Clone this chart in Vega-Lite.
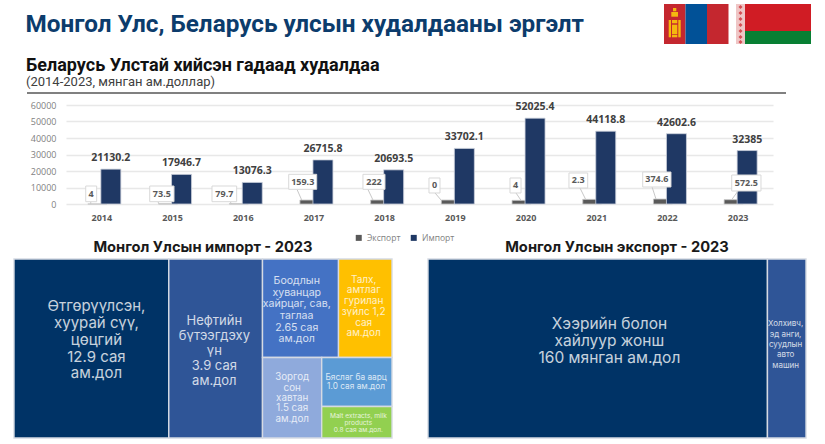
{"$schema":"https://vega.github.io/schema/vega-lite/v6.json","padding":{"top":3,"left":0,"right":0,"bottom":0},"background":"white","spacing":-4,
"resolve":{"scale":{"color":"independent"}},
"config":{"view":{"stroke":null},"font":"Open Sans"},
"datasets":{
"bars":[
{"year":2014,"series":"Импорт","value":21130.2,"label":"21130.2"},
{"year":2015,"series":"Импорт","value":17946.7,"label":"17946.7"},
{"year":2016,"series":"Импорт","value":13076.3,"label":"13076.3"},
{"year":2017,"series":"Импорт","value":26715.8,"label":"26715.8"},
{"year":2018,"series":"Импорт","value":20693.5,"label":"20693.5"},
{"year":2019,"series":"Импорт","value":33702.1,"label":"33702.1"},
{"year":2020,"series":"Импорт","value":52025.4,"label":"52025.4"},
{"year":2021,"series":"Импорт","value":44118.8,"label":"44118.8"},
{"year":2022,"series":"Импорт","value":42602.6,"label":"42602.6"},
{"year":2023,"series":"Импорт","value":32385,"label":"32385"},
{"year":2014,"series":"Экспорт","value":4,"label":"4","bx0":2013.779,"bx1":2013.934,"by0":1400,"by1":10900,"lx":2013.856,"ly":6150,"px0":2013.85,"py0":1400,"px1":2013.85,"py1":100},
{"year":2015,"series":"Экспорт","value":73.5,"label":"73.5","bx0":2014.684,"bx1":2015.028,"by0":1400,"by1":10900,"lx":2014.856,"ly":6150,"px0":2014.8,"py0":1400,"px1":2014.815,"py1":100},
{"year":2016,"series":"Экспорт","value":79.7,"label":"79.7","bx0":2015.565,"bx1":2015.914,"by0":1400,"by1":10900,"lx":2015.74,"ly":6150,"px0":2015.82,"py0":1400,"px1":2015.844,"py1":100},
{"year":2017,"series":"Экспорт","value":2400,"label":"159.3","bx0":2016.65,"bx1":2017.046,"by0":8900,"by1":18000,"lx":2016.848,"ly":13450,"px0":2016.767,"py0":8900,"px1":2016.834,"py1":2400},
{"year":2018,"series":"Экспорт","value":2400,"label":"222","bx0":2017.7,"bx1":2018.012,"by0":8900,"by1":18000,"lx":2017.856,"ly":13450,"px0":2017.77,"py0":8900,"px1":2017.842,"py1":2400},
{"year":2019,"series":"Экспорт","value":2400,"label":"0","bx0":2018.634,"bx1":2018.79,"by0":6670,"by1":15760,"lx":2018.712,"ly":11215,"px0":2018.72,"py0":6670,"px1":2018.805,"py1":2400},
{"year":2020,"series":"Экспорт","value":2200,"label":"4","bx0":2019.78,"bx1":2019.936,"by0":6670,"by1":15760,"lx":2019.858,"ly":11215,"px0":2019.865,"py0":6670,"px1":2019.936,"py1":2200},
{"year":2021,"series":"Экспорт","value":2800,"label":"2.3","bx0":2020.614,"bx1":2020.879,"by0":9700,"by1":18790,"lx":2020.746,"ly":14245,"px0":2020.77,"py0":9700,"px1":2020.85,"py1":2800},
{"year":2022,"series":"Экспорт","value":3000,"label":"374.6","bx0":2021.657,"bx1":2022.057,"by0":10300,"by1":19400,"lx":2021.857,"ly":14850,"px0":2021.79,"py0":10300,"px1":2021.845,"py1":3000},
{"year":2023,"series":"Экспорт","value":2600,"label":"572.5","bx0":2022.916,"bx1":2023.33,"by0":7880,"by1":17570,"lx":2023.123,"ly":12725,"px0":2023.005,"py0":7880,"px1":2022.916,"py1":2600}
],
"imp":[
{"name":"A","x0":0,"x1":40.95,"y0":0,"y1":100,"lx":21.8,"ly":26.5,"label":"Өтгөрүүлсэн,\nхуурай сүү,\nцөцгий\n12.9 сая\nам.дол"},
{"name":"B","x0":40.95,"x1":65.74,"y0":0,"y1":100,"lx":53,"ly":34.9,"label":"Нефтийн\nбүтээгдэху\nүн\n3.9 сая\nам.дол"},
{"name":"C","x0":65.74,"x1":85.85,"y0":0,"y1":55.03,"lx":74.8,"ly":12.2,"label":"Боодлын\nхуванцар\nхайрцаг, сав,\nтаглаа\n2.65 сая\nам.дол"},
{"name":"D","x0":85.85,"x1":100,"y0":0,"y1":55.03,"lx":92.5,"ly":11.6,"label":"Талх,\nамтлаг\nгурилан\nзүйлс 1,2\nсая\nам.дол"},
{"name":"E","x0":65.74,"x1":81.4,"y0":55.03,"y1":100,"lx":73.6,"ly":66,"label":"Зоргод\nсон\nхавтан\n1.5 сая\nам.дол"},
{"name":"F","x0":81.4,"x1":100,"y0":55.03,"y1":82.4,"lx":90.5,"ly":66.6,"label":"Бяслаг ба аарц\n1.0 сая ам.дол"},
{"name":"G","x0":81.4,"x1":100,"y0":82.4,"y1":100,"lx":91.1,"ly":87.6,"label":"Malt extracts, milk\nproducts\n0.8 сая ам.дол."}
],
"exp":[
{"name":"A","x0":0,"x1":89.8,"y0":0,"y1":100,"lx":48,"ly":36.4,"label":"Хээрийн болон\nхайлуур жонш\n160 мянган ам.дол"},
{"name":"B","x0":89.8,"x1":100,"y0":0,"y1":100,"lx":94.6,"ly":36.4,"label":"Холхивч,\nэд анги,\nсуудлын\nавто\nмашин"}
],
"mn":[
{"part":"red","x0":0,"x1":21.5,"y0":0,"y1":40},
{"part":"blue","x0":21.5,"x1":43,"y0":0,"y1":40},
{"part":"red","x0":43,"x1":64.5,"y0":0,"y1":40},
{"part":"gold","x0":9,"x1":12.3,"y0":4,"y1":7.3},
{"part":"gold","x0":7.3,"x1":14,"y0":8,"y1":12.7},
{"part":"gold","x0":4.7,"x1":7,"y0":16,"y1":33.3},
{"part":"gold","x0":14.3,"x1":16.7,"y0":16,"y1":33.3},
{"part":"gold","x0":8,"x1":13.3,"y0":16,"y1":19.3},
{"part":"gold","x0":8,"x1":13.3,"y0":20.7,"y1":30},
{"part":"gold","x0":8,"x1":13.3,"y0":30.7,"y1":33.3}
],
"by":[
{"part":"pink","x0":0,"x1":9,"y0":0,"y1":40},
{"part":"red","x0":9,"x1":75,"y0":0,"y1":27},
{"part":"green","x0":9,"x1":75,"y0":27,"y1":40}
],
"byo":[{"cx":4.5,"cy":3},{"cx":4.5,"cy":9},{"cx":4.5,"cy":15},{"cx":4.5,"cy":21},{"cx":4.5,"cy":27},{"cx":4.5,"cy":33},{"cx":4.5,"cy":38}]
},
"vconcat":[
{"resolve":{"scale":{"color":"independent"}},"hconcat":[
{"width":663,"height":57,"data":{"values":[{"t":"Монгол Улс, Беларусь улсын худалдааны эргэлт"}]},
 "mark":{"type":"text","align":"left","baseline":"middle","font":"Roboto","fontWeight":"bold","fontSize":24.3,"color":"#0c3c6c"},
 "encoding":{"text":{"field":"t"},"x":{"datum":24.5,"type":"quantitative","scale":{"domain":[0,663]},"axis":null},"y":{"datum":21,"type":"quantitative","scale":{"domain":[57,0]},"axis":null}}},
{"width":64.5,"height":40,"data":{"name":"mn"},"mark":"rect","encoding":{
 "x":{"field":"x0","type":"quantitative","scale":{"domain":[0,64.5],"nice":false},"axis":null},"x2":{"field":"x1"},
 "y":{"field":"y0","type":"quantitative","scale":{"domain":[40,0],"nice":false},"axis":null},"y2":{"field":"y1"},
 "color":{"field":"part","type":"nominal","legend":null,"sort":null,"scale":{"domain":["red","blue","gold"],"range":["#c4272f","#015197","#f5b80f"]}},
 "order":{"field":"y1","type":"quantitative","sort":"descending"}}},
{"width":7,"height":40,"data":{"values":[{}]},"mark":{"type":"rule","opacity":0},"encoding":{}},
{"width":75,"height":40,"layer":[
 {"data":{"name":"by"},"mark":"rect","encoding":{
 "x":{"field":"x0","type":"quantitative","scale":{"domain":[0,75],"nice":false},"axis":null},"x2":{"field":"x1"},
 "y":{"field":"y0","type":"quantitative","scale":{"domain":[40,0],"nice":false},"axis":null},"y2":{"field":"y1"},
 "color":{"field":"part","type":"nominal","legend":null,"scale":{"domain":["pink","red","green"],"range":["#efc6c6","#d01c24","#087f33"]}}}},
 {"data":{"name":"byo"},"mark":{"type":"point","shape":"diamond","filled":true,"size":16,"color":"#cf3a40","opacity":0.85},"encoding":{
 "x":{"field":"cx","type":"quantitative"},"y":{"field":"cy","type":"quantitative"}}}
]}
],"spacing":0,"bounds":"flush"},
{"hconcat":[
{"width":64.5,"height":99,"data":{"values":[{}]},"mark":{"type":"rule","opacity":0},"encoding":{}},
{"width":707,"height":99,"data":{"name":"bars"},
 "title":{"text":"Беларусь Улстай хийсэн гадаад худалдаа","subtitle":"(2014-2023, мянган ам.доллар)","anchor":"start","frame":"group","dx":-40,"offset":3,"font":"Roboto","fontWeight":"bold","fontSize":18,"color":"#111111","subtitleFont":"Roboto","subtitleFontSize":13,"subtitleColor":"#404040","subtitlePadding":1},
 "layer":[
 {"transform":[{"filter":"datum.series=='Экспорт'"}],"mark":{"type":"bar","size":19,"xOffset":-4,"orient":"vertical","stroke":"#c4c4c4","strokeWidth":0.8},"encoding":{
  "x":{"field":"year","type":"quantitative","scale":{"domain":[2013.5,2023.5],"nice":false,"zero":false,"padding":0},"axis":{"values":[2014,2015,2016,2017,2018,2019,2020,2021,2022,2023],"tickCount":10,"format":"d","title":null,"grid":false,"domain":false,"ticks":false,"labelFont":"Open Sans","labelFontWeight":"bold","labelFontSize":9,"labelColor":"#595959","labelPadding":9}},
  "y":{"field":"value","type":"quantitative","stack":null,"scale":{"domain":[0,60000],"nice":false},"axis":{"values":[0,10000,20000,30000,40000,50000,60000],"tickCount":7,"title":null,"format":"d","domain":false,"ticks":false,"gridColor":"#e8e8e8","gridWidth":1.3,"labelFont":"Open Sans","labelFontSize":9,"labelColor":"#7f7f7f","labelPadding":10}},
  "color":{"field":"series","type":"nominal","scale":{"domain":["Экспорт","Импорт"],"range":["#595959","#1f3864"]},"legend":{"title":null,"orient":"none","legendX":353.5,"legendY":128.5,"direction":"horizontal","symbolType":"square","symbolSize":36,"labelFont":"Open Sans","labelFontSize":8.5,"labelColor":"#7f7f7f","columnPadding":9,"symbolStrokeWidth":0}}}},
 {"transform":[{"filter":"datum.series=='Импорт'"}],"mark":{"type":"bar","size":20,"xOffset":9.5,"orient":"vertical","stroke":"#ccd1dc","strokeWidth":0.8},"encoding":{
  "x":{"field":"year","type":"quantitative"},"y":{"field":"value","type":"quantitative","stack":null},"color":{"field":"series","type":"nominal"}}},
 {"transform":[{"filter":"datum.series=='Импорт'"}],"mark":{"type":"text","dx":9.5,"dy":-11,"baseline":"middle","font":"Open Sans","fontWeight":"bold","fontSize":10.5,"color":"#404040"},"encoding":{
  "x":{"field":"year","type":"quantitative"},"y":{"field":"value","type":"quantitative","stack":null},"text":{"field":"label"}}},
 {"transform":[{"filter":"datum.series=='Экспорт'"}],"mark":{"type":"rule","color":"#c8c8c8","strokeWidth":1},"encoding":{
  "x":{"field":"px0","type":"quantitative"},"x2":{"field":"px1"},"y":{"field":"py0","type":"quantitative"},"y2":{"field":"py1"}}},
 {"transform":[{"filter":"datum.series=='Экспорт'"}],"mark":{"type":"rect","fill":"#ffffff","stroke":"#d9d9d9","strokeWidth":1},"encoding":{
  "x":{"field":"bx0","type":"quantitative"},"x2":{"field":"bx1"},"y":{"field":"by0","type":"quantitative"},"y2":{"field":"by1"}}},
 {"transform":[{"filter":"datum.series=='Экспорт'"}],"mark":{"type":"text","baseline":"middle","font":"Open Sans","fontWeight":"bold","fontSize":9,"color":"#595959"},"encoding":{
  "x":{"field":"lx","type":"quantitative"},"y":{"field":"ly","type":"quantitative"},"text":{"field":"label"}}},
 {"mark":{"type":"rule","color":"#808080","strokeWidth":1.5},"encoding":{"x":{"datum":2012.95,"type":"quantitative"},"x2":{"datum":2023.68},"y":{"datum":67270,"type":"quantitative"}}}
 ]}
],"spacing":0,"bounds":"flush"},
{"resolve":{"scale":{"color":"independent"}},"hconcat":[
{"width":13,"height":179,"data":{"values":[{}]},"mark":{"type":"rule","opacity":0},"encoding":{}},
{"width":378,"height":179,"data":{"name":"imp"},"title":{"text":"Монгол Улсын импорт - 2023","anchor":"middle","offset":4,"font":"Inter","fontWeight":"bold","fontSize":14.7,"color":"#1a1a1a"},
 "layer":[
 {"mark":{"type":"rect","stroke":"#d5dae3","strokeWidth":1.4},"encoding":{
 "x":{"field":"x0","type":"quantitative","scale":{"domain":[0,100],"nice":false},"axis":null},"x2":{"field":"x1"},
 "y":{"field":"y0","type":"quantitative","scale":{"domain":[100,0],"nice":false},"axis":null},"y2":{"field":"y1"},
 "color":{"field":"name","type":"nominal","legend":null,"scale":{"domain":["A","B","C","D","E","F","G"],"range":["#003366","#2f5597","#4472c4","#ffc000","#8faadc","#5b9bd5","#92d050"]}}}},
 {"mark":{"type":"text","lineBreak":"\n","font":"Inter","color":"#ffffff","opacity":0.78,"baseline":"middle",
  "fontSize":{"expr":"{A:15,B:13,C:10.6,D:10,E:9.8,F:8.3,G:6.6}[datum.name]"},
  "lineHeight":{"expr":"{A:16.7,B:14.8,C:11.7,D:10.7,E:10.4,F:9,G:7.3}[datum.name]"}},
  "encoding":{"x":{"field":"lx","type":"quantitative"},"y":{"field":"ly","type":"quantitative"},"text":{"field":"label"}}}
 ]},
{"width":36,"height":179,"data":{"values":[{}]},"mark":{"type":"rule","opacity":0},"encoding":{}},
{"width":378,"height":179,"data":{"name":"exp"},"title":{"text":"Монгол Улсын экспорт - 2023","anchor":"middle","offset":4,"font":"Inter","fontWeight":"bold","fontSize":14.7,"color":"#1a1a1a"},
 "layer":[
 {"mark":{"type":"rect","stroke":"#d5dae3","strokeWidth":1.4},"encoding":{
 "x":{"field":"x0","type":"quantitative","scale":{"domain":[0,100],"nice":false},"axis":null},"x2":{"field":"x1"},
 "y":{"field":"y0","type":"quantitative","scale":{"domain":[100,0],"nice":false},"axis":null},"y2":{"field":"y1"},
 "color":{"field":"name","type":"nominal","legend":null,"scale":{"domain":["A","B"],"range":["#003366","#2f5597"]}}}},
 {"mark":{"type":"text","lineBreak":"\n","font":"Inter","color":"#ffffff","opacity":0.78,"baseline":"middle",
  "fontSize":{"expr":"{A:15.5,B:8}[datum.name]"},
  "lineHeight":{"expr":"{A:16.7,B:10.4}[datum.name]"}},
  "encoding":{"x":{"field":"lx","type":"quantitative"},"y":{"field":"ly","type":"quantitative"},"text":{"field":"label"}}}
 ]}
],"spacing":0,"bounds":"flush"}
]}
